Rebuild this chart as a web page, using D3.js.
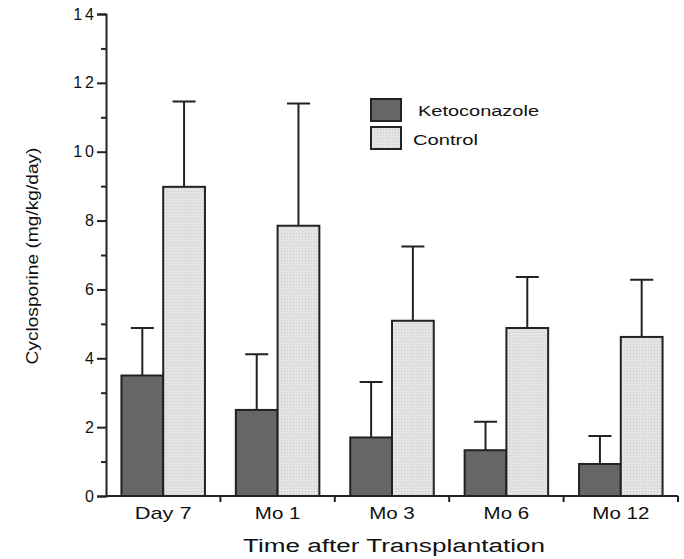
<!DOCTYPE html>
<html>
<head>
<meta charset="utf-8">
<script src="https://cdn.jsdelivr.net/npm/d3@7"></script>
<style>
  body { margin: 0; background: #fff; }
  text { font-family: "Liberation Sans", Arial, sans-serif; fill: #111; }
</style>
</head>
<body>
<div id="chart"></div>
<script>
const categories = ['Day 7', 'Mo 1', 'Mo 3', 'Mo 6', 'Mo 12'];
const series = ['Ketoconazole', 'Control'];
const ketoValues = [3.5, 2.5, 1.7, 1.33, 0.93];
const ketoErrors = [4.88, 4.12, 3.31, 2.16, 1.74];
const controlValues = [8.98, 7.85, 5.09, 4.88, 4.62];
const controlErrors = [11.46, 11.40, 7.25, 6.36, 6.28];
const yTicks = [0, 2, 4, 6, 8, 10, 12, 14];
const yMinorTicks = [1, 3, 5, 7, 9, 11, 13];

const W = 684, H = 559;
const margin = {top: 14, right: 6, bottom: 63, left: 106};
const width = W - margin.left - margin.right;
const height = H - margin.top - margin.bottom;

const svg = d3.select('#chart')
  .append('svg')
  .attr('width', W)
  .attr('height', H);

const defs = svg.append('defs');
const pat = defs.append('pattern')
  .attr('id', 'dots')
  .attr('width', 3).attr('height', 3)
  .attr('patternUnits', 'userSpaceOnUse');
pat.append('rect').attr('width', 3).attr('height', 3).attr('fill', '#e4e4e4');
pat.append('rect').attr('width', 1).attr('height', 1).attr('fill', '#c8c8c8');

const g = svg.append('g')
  .attr('transform', 'translate(' + margin.left + ',' + margin.top + ')');

const x = d3.scaleBand()
  .domain(categories)
  .range([0, width])
  .paddingInner(0.27)
  .paddingOuter(0.135);

const x1 = d3.scaleBand()
  .domain(series)
  .range([0, x.bandwidth()]);

const y = d3.scaleLinear()
  .domain([0, 14])
  .range([height, 0]);

const fills = {Ketoconazole: '#666666', Control: 'url(#dots)'};

const rows = categories.map((c, i) => ({
  cat: c,
  bars: [
    {s: 'Ketoconazole', v: ketoValues[i], e: ketoErrors[i]},
    {s: 'Control', v: controlValues[i], e: controlErrors[i]}
  ]
}));

const groups = g.selectAll('.grp')
  .data(rows)
  .enter()
  .append('g')
  .attr('transform', d => 'translate(' + x(d.cat) + ',0)');

// error bars (upward only)
groups.selectAll('.err')
  .data(d => d.bars)
  .enter()
  .append('path')
  .attr('d', d => {
    const cx = x1(d.s) + x1.bandwidth() / 2;
    return 'M' + cx + ',' + y(d.v) + 'V' + y(d.e) +
      'M' + (cx - 11.5) + ',' + y(d.e) + 'H' + (cx + 11.5);
  })
  .attr('stroke', '#222')
  .attr('stroke-width', 2)
  .attr('fill', 'none');

groups.selectAll('rect')
  .data(d => d.bars)
  .enter()
  .append('rect')
  .attr('x', d => x1(d.s))
  .attr('y', d => y(d.v))
  .attr('width', x1.bandwidth())
  .attr('height', d => y(0) - y(d.v))
  .attr('fill', d => fills[d.s])
  .attr('stroke', '#222')
  .attr('stroke-width', 2);

// y axis
const yAxis = g.append('g')
  .call(d3.axisLeft(y).tickValues(yTicks).tickSize(9).tickPadding(0));
yAxis.append('g')
  .call(d3.axisLeft(y).tickValues(yMinorTicks).tickSize(5).tickFormat(''))
  .select('.domain').remove();
yAxis.selectAll('path, line').attr('stroke', '#222').attr('stroke-width', 2);
yAxis.selectAll('text')
  .style('font-size', '16px')
  .style('letter-spacing', '3px')
  .attr('fill', '#111');

// x axis: ticks at category boundaries
const bounds = categories.map(c => x(c) - x.step() * x.paddingInner() / 2).slice(1)
  .concat([width]);
const xAxis = g.append('g')
  .attr('transform', 'translate(0,' + height + ')');
xAxis.append('line')
  .attr('x1', 0).attr('x2', width)
  .attr('stroke', '#222').attr('stroke-width', 2);
xAxis.selectAll('.bt')
  .data(bounds)
  .enter()
  .append('line')
  .attr('x1', d => d).attr('x2', d => d)
  .attr('y1', 0).attr('y2', 6)
  .attr('stroke', '#222').attr('stroke-width', 2);
xAxis.selectAll('.lbl')
  .data(categories)
  .enter()
  .append('text')
  .attr('x', d => x(d) + x.bandwidth() / 2)
  .attr('y', 23)
  .attr('text-anchor', 'middle')
  .attr('textLength', d => d.length * 11.4)
  .attr('lengthAdjust', 'spacingAndGlyphs')
  .style('font-size', '17px')
  .text(d => d);

g.append('text')
  .attr('x', 394 - margin.left)
  .attr('y', 552 - margin.top)
  .attr('text-anchor', 'middle')
  .attr('textLength', 302)
  .attr('lengthAdjust', 'spacingAndGlyphs')
  .style('font-size', '18px')
  .text('Time after Transplantation');

g.append('text')
  .attr('transform', 'translate(' + (38 - margin.left) + ',' + (256 - margin.top) + ') rotate(-90)')
  .attr('text-anchor', 'middle')
  .attr('textLength', 217)
  .attr('lengthAdjust', 'spacingAndGlyphs')
  .style('font-size', '17px')
  .text('Cyclosporine (mg/kg/day)');

// legend
const legendText = [{x: 47, len: 121}, {x: 42, len: 65}];
const legend = g.append('g')
  .attr('transform', 'translate(' + (371 - margin.left) + ',' + (99 - margin.top) + ')');
series.forEach((s, i) => {
  legend.append('rect')
    .attr('x', 0).attr('y', i * 28)
    .attr('width', 30).attr('height', 22)
    .attr('fill', fills[s])
    .attr('stroke', '#222')
    .attr('stroke-width', 2);
  legend.append('text')
    .attr('x', legendText[i].x)
    .attr('y', i * 29 + 17)
    .attr('textLength', legendText[i].len)
    .attr('lengthAdjust', 'spacingAndGlyphs')
    .style('font-size', '14px')
    .text(s);
});
</script>
</body>
</html>
